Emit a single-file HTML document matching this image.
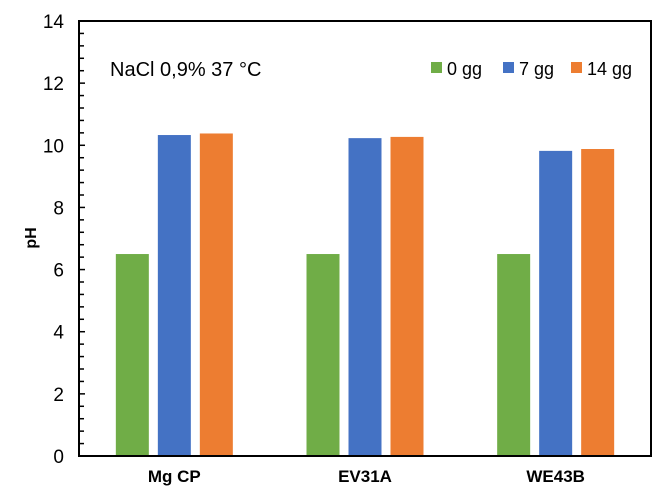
<!DOCTYPE html>
<html><head><meta charset="utf-8"><style>
body{margin:0;background:#fff;}
svg{display:block;font-family:"Liberation Sans",sans-serif;}
</style></head><body>
<svg id="c" width="668" height="501"></svg>
<script>
const categories=["Mg CP","EV31A","WE43B"];
const seriesNames=["0 gg","7 gg","14 gg"];
const s0=[6.5,6.5,6.5];
const s7=[10.33,10.23,9.82];
const s14=[10.38,10.27,9.88];
const yTicks=[0,2,4,6,8,10,12,14];
const colors=["#70ad47","#4472c4","#ed7d31"];
const NS="http://www.w3.org/2000/svg";
const svg=document.getElementById('c');
const L=79,R=651,T=21,B=456,yMax=14;
const y=v=>B-(v/yMax)*(B-T);
const gw=(R-L)/categories.length;
const xc=i=>L+gw*(i+0.5);
function mk(t,a){const e=document.createElementNS(NS,t);for(const k in a)e.setAttribute(k,a[k]);svg.appendChild(e);return e;}
const series=[s0,s7,s14];
series.forEach((s,si)=>{s.forEach((v,i)=>{
 const bw=33,step=42;
 const r=mk('rect',{x:xc(i)+(si-1)*step-bw/2,y:y(v),width:bw,height:B-y(v),fill:colors[si]});
 
 
});});
const frame=mk('rect',{x:L,y:T,width:R-L,height:B-T,fill:'none',stroke:'#000','stroke-width':2});


for(let v=0;v<=yMax+0.001;v+=0.4){
 const yy=y(v);const major=Math.abs(v/2-Math.round(v/2))<0.01;
 const tk=mk('line',{x1:L,x2:L+(major?6:5),y1:yy,y2:yy,stroke:'#000','stroke-width':1.5});
 
 
}
yTicks.forEach(v=>{
 const t=mk('text',{x:L-15,y:y(v)+7,'text-anchor':'end','font-size':19,fill:'#000'});t.textContent=v;
 
 
});
categories.forEach((c,i)=>{
 const t=mk('text',{x:xc(i),y:482,'text-anchor':'middle','font-size':17,'font-weight':'bold',fill:'#000'});t.textContent=c;
 
 
});
const yt=mk('text',{x:0,y:0,transform:'translate(36,238) rotate(-90)','text-anchor':'middle','font-size':16,'font-weight':'bold'});yt.textContent='pH';


const ti=mk('text',{x:110,y:76,'font-size':20});ti.textContent='NaCl 0,9% 37 °C';


const lx=[431,503,571];
seriesNames.forEach((n,i)=>{
 const r=mk('rect',{x:lx[i],y:62,width:11,height:11,fill:colors[i]});
 
 
 const t=mk('text',{x:lx[i]+16,y:75,'font-size':18});t.textContent=n;
 
 
});
</script>
</body></html>
